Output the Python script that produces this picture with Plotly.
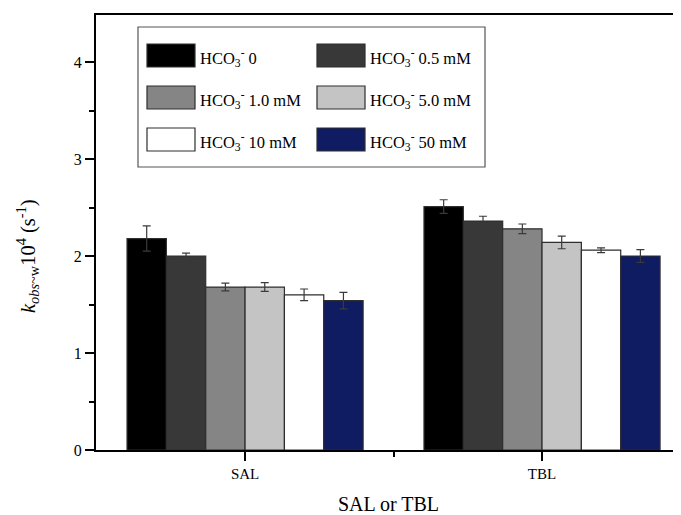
import plotly.graph_objects as go

categories = ["SAL", "TBL"]
series_names = ["HCO<sub>3</sub><sup>-</sup> 0", "HCO<sub>3</sub><sup>-</sup> 0.5 mM",
                "HCO<sub>3</sub><sup>-</sup> 1.0 mM", "HCO<sub>3</sub><sup>-</sup> 5.0 mM",
                "HCO<sub>3</sub><sup>-</sup> 10 mM", "HCO<sub>3</sub><sup>-</sup> 50 mM"]
sal_values = [2.18, 2.00, 1.68, 1.68, 1.60, 1.54]
tbl_values = [2.51, 2.36, 2.28, 2.14, 2.06, 2.00]
sal_errors = [0.13, 0.03, 0.04, 0.045, 0.06, 0.085]
tbl_errors = [0.07, 0.05, 0.05, 0.065, 0.025, 0.065]
colors = ["#000000", "#383838", "#858585", "#c4c4c4", "#ffffff", "#101c62"]
y_ticks = [0, 1, 2, 3, 4]
y_title = "<i>k</i><sub><i>obs</i></sub><sub>~w</sub>10<sup>4</sup> (s<sup>-1</sup>)"

FONT = "Liberation Serif"
fig = go.Figure()
xpos = list(range(len(categories)))
for i, name in enumerate(series_names):
    fig.add_trace(go.Bar(
        x=xpos, y=[sal_values[i], tbl_values[i]], name=name,
        marker=dict(color=colors[i], line=dict(color="#2e2e2e", width=1.2)),
        error_y=dict(type="data", array=[sal_errors[i], tbl_errors[i]], symmetric=True,
                     color="#3a3a3a", thickness=1.2, width=4),
        showlegend=False,
    ))

# page offset (default body margin of the html page)
OFF = 8
LEFT, TOP, BOTTOM = 96, 15, 450
# custom legend (box + swatches + labels), positions in page pixels
shapes = []
annotations = []
W, H = float(681 - LEFT), float(BOTTOM - TOP)  # plot area px
def px_x(x):
    return (x - LEFT) / W
def px_y(y):
    return (BOTTOM - y) / H
shapes.append(dict(type="rect", xref="paper", yref="paper",
                   x0=px_x(138), x1=px_x(485), y0=px_y(167), y1=px_y(27),
                   line=dict(color="#555555", width=1.2), fillcolor="white"))
col_x = [147, 317]
row_y = [44, 86, 128]
sw_w, sw_h = 48, 23
for i, name in enumerate(series_names):
    r, c = divmod(i, 2)
    x0 = col_x[c]
    y0 = row_y[r]
    shapes.append(dict(type="rect", xref="paper", yref="paper",
                       x0=px_x(x0), x1=px_x(x0 + sw_w), y0=px_y(y0 + sw_h), y1=px_y(y0),
                       fillcolor=colors[i], line=dict(color="#2e2e2e", width=1.2)))
    annotations.append(dict(xref="paper", yref="paper", x=px_x(x0 + sw_w + 3),
                            y=px_y(y0 + sw_h / 2 + 2), text=name, showarrow=False,
                            xanchor="left", yanchor="middle",
                            font=dict(family=FONT, size=16.5, color="black")))

# y-axis title as rotated annotation (sits a bit below the plot centre in the reference)
annotations.append(dict(xref="paper", yref="paper", x=px_x(28), y=px_y(256),
                        text=y_title, textangle=-90, showarrow=False,
                        xanchor="center", yanchor="middle",
                        font=dict(family=FONT, size=20.5, color="black")))

fig.update_layout(
    width=681 - OFF, height=515 - OFF,
    margin=dict(l=LEFT - OFF, r=0, t=TOP - OFF, b=515 - BOTTOM),
    paper_bgcolor="white", plot_bgcolor="white",
    barmode="group", bargap=0.205, bargroupgap=0,
    font=dict(family=FONT, size=15, color="black"),
    shapes=shapes, annotations=annotations,
)
fig.update_xaxes(
    automargin=False,
    range=[-0.502, 1.468], tickvals=xpos, ticktext=categories,
    ticks="outside", ticklen=9, tickwidth=1.5, tickcolor="black",
    minor=dict(tickvals=[0.5], ticks="outside", ticklen=5, tickwidth=1.5, tickcolor="black"),
    showline=True, linecolor="black", linewidth=1.5, mirror=True,
    showgrid=False, zeroline=False,
    tickfont=dict(family=FONT, size=15),
    title=dict(text="SAL or TBL", font=dict(family=FONT, size=20), standoff=16),
)
fig.update_yaxes(
    automargin=False,
    range=[0, 4.485], tickvals=y_ticks,
    ticks="outside", ticklen=9, tickwidth=1.5, tickcolor="black",
    minor=dict(dtick=0.5, tick0=0.5, ticks="outside", ticklen=5, tickwidth=1.5, tickcolor="black"),
    showline=True, linecolor="black", linewidth=2,
    showgrid=False, zeroline=False,
    tickfont=dict(family=FONT, size=16),
)
fig.write_html("out.html")
